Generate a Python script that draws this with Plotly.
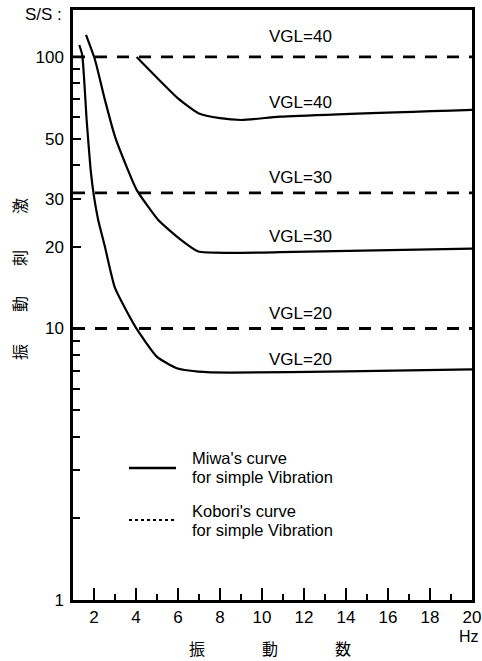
import math
import plotly.graph_objects as go

# Frequency (Hz) and stimulus level (S/S) for Miwa's curves
miwa_vgl20_hz = [1.30, 1.44, 1.65, 1.84, 2.0, 2.2, 2.52, 3.0, 3.95, 4.99, 5.94, 6.97, 8.48, 14.0, 20.0]
miwa_vgl20 = [110.7, 101.7, 58.6, 38.4, 30.6, 25.1, 20.0, 14.1, 10.2, 7.88, 7.14, 6.94, 6.88, 6.95, 7.07]

miwa_vgl30_hz = [1.62, 2.05, 2.52, 3.0, 3.48, 4.03, 5.06, 6.14, 6.97, 8.48, 10.86, 20.0]
miwa_vgl30 = [120.5, 97.5, 69.5, 50.9, 40.7, 32.4, 25.1, 21.2, 19.2, 19.0, 19.1, 19.7]

miwa_vgl40_hz = [4.03, 6.0, 6.97, 8.0, 9.03, 10.86, 20.0]
miwa_vgl40 = [100.0, 70.4, 62.1, 59.5, 58.6, 60.3, 63.9]

# Kobori's constant levels
kobori_hz = [1, 20]
kobori_levels = [10.0, 31.6, 100.0]
kobori_names = ["VGL=20", "VGL=30", "VGL=40"]

x_ticks = [2, 4, 6, 8, 10, 12, 14, 16, 18, 20]
x_minor = [3, 5, 7, 9, 11, 13, 15, 17, 19]
y_ticks = [1, 10, 20, 30, 50, 100]
y_minor = [2, 3, 4, 5, 6, 7, 8, 9, 40, 60, 70, 80, 90]

FONT = "Liberation Sans, Arial, sans-serif"
CJK = "Noto Sans CJK JP"

# plot area in pixels
L, R, T, B = 73, 472, 10, 600
W, H = 482, 661


def px(x):
    return (x - L) / (R - L)


def py(y):
    return (B - y) / (B - T)


fig = go.Figure()

for lvl in kobori_levels:
    fig.add_trace(go.Scatter(x=kobori_hz, y=[lvl, lvl], mode="lines",
                             line=dict(color="black", width=2.8, dash="12px,10px"),
                             hoverinfo="skip"))

for xs, ys in [(miwa_vgl20_hz, miwa_vgl20), (miwa_vgl30_hz, miwa_vgl30), (miwa_vgl40_hz, miwa_vgl40)]:
    fig.add_trace(go.Scatter(x=xs, y=ys, mode="lines",
                             line=dict(color="black", width=2.2, shape="spline", smoothing=0.5),
                             hoverinfo="skip"))

ann = []
label_x = 11.83
# labels above the dashed levels (annotation y on a log axis is given as log10)
for lvl, name, shift in zip(kobori_levels, kobori_names, [15, 15, 20]):
    ann.append(dict(x=label_x, y=math.log10(lvl), yshift=shift, text=name, showarrow=False,
                    font=dict(size=17, family=FONT, color="black")))
# labels above Miwa's curves
for xs, ys, name, shift in [(miwa_vgl20_hz, miwa_vgl20, "VGL=20", 12),
                            (miwa_vgl30_hz, miwa_vgl30, "VGL=30", 16),
                            (miwa_vgl40_hz, miwa_vgl40, "VGL=40", 14)]:
    ann.append(dict(x=label_x, y=math.log10(ys[-2]), yshift=shift, text=name, showarrow=False,
                    font=dict(size=17, family=FONT, color="black")))

ann.append(dict(xref="paper", yref="paper", x=px(23), y=py(15), xanchor="left", yanchor="middle",
                text="S/S :", showarrow=False, font=dict(size=17, family=FONT, color="black")))
ann.append(dict(xref="paper", yref="paper", x=px(469), y=py(636), xanchor="center", yanchor="middle",
                text="Hz", showarrow=False, font=dict(size=16, family=FONT, color="black")))

for ch, cx in zip(["振", "動", "数"], [197, 270, 343]):
    ann.append(dict(xref="paper", yref="paper", x=px(cx), y=py(648), xanchor="center", yanchor="middle",
                    text=ch, showarrow=False, font=dict(size=16, family=CJK, color="black")))

for ch, cy in zip(["振", "動", "刺", "激"], [352, 304, 258, 206]):
    ann.append(dict(xref="paper", yref="paper", x=px(19), y=py(cy), xanchor="center", yanchor="middle",
                    text=ch, textangle=-90, showarrow=False, font=dict(size=16, family=CJK, color="black")))

# legend
legend_rows = [("Miwa's curve", "for simple Vibration", 458, 477, 468, "solid"),
               ("Kobori's curve", "for simple Vibration", 511, 530, 520, "dot")]
shapes = []
for l1, l2, y1, y2, ys, dash in legend_rows:
    shapes.append(dict(type="line", xref="paper", yref="paper", x0=px(129), x1=px(176), y0=py(ys), y1=py(ys),
                       line=dict(color="black", width=2.5 if dash == "solid" else 2, dash=dash)))
    for txt, yy in [(l1, y1), (l2, y2)]:
        ann.append(dict(xref="paper", yref="paper", x=px(190), y=py(yy), xanchor="left", yanchor="middle",
                        text=txt, showarrow=False, font=dict(size=16.5, family=FONT, color="black")))

fig.update_layout(
    width=W, height=H,
    margin=dict(l=L, r=W - R, t=T, b=H - B, autoexpand=False),
    paper_bgcolor="white", plot_bgcolor="white",
    showlegend=False,
    annotations=ann, shapes=shapes,
    font=dict(family=FONT, color="black"),
)
fig.update_xaxes(range=[1, 20], tickmode="array", tickvals=x_ticks, ticks="inside", ticklen=12, tickwidth=2,
                 tickcolor="black", showline=True, linecolor="black", linewidth=2.5, mirror=True,
                 automargin=False,
                 showgrid=False, zeroline=False, tickfont=dict(size=17, family=FONT, color="black"),
                 minor=dict(tickvals=x_minor, ticks="inside", ticklen=6, tickwidth=2, tickcolor="black",
                            showgrid=False))
fig.update_yaxes(type="log", range=[0, 2.173], tickmode="array", tickvals=y_ticks,
                 ticktext=[str(v) for v in y_ticks], ticks="inside", ticklen=8, tickwidth=2,
                 tickcolor="black", showline=True, linecolor="black", linewidth=2.5, mirror=True,
                 automargin=False, ticklabelstandoff=3,
                 showgrid=False, zeroline=False, tickfont=dict(size=17, family=FONT, color="black"),
                 minor=dict(tickvals=y_minor, ticks="inside", ticklen=7, tickwidth=2, tickcolor="black",
                            showgrid=False))

fig.write_html("out.html")
